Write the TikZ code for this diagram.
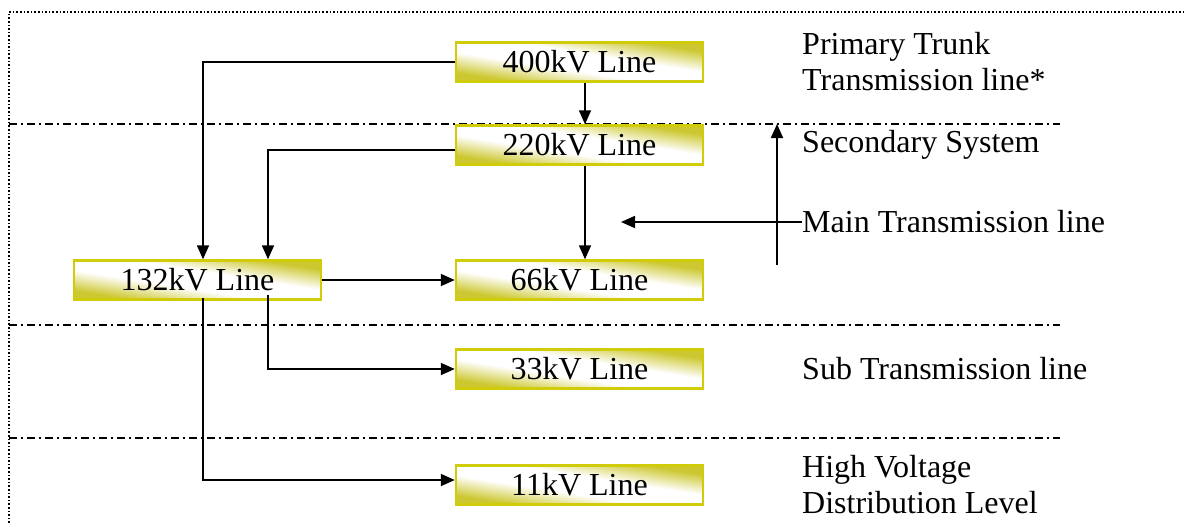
\documentclass[tikz,border=0pt]{standalone}
\usepackage{fontspec}
\setmainfont{Liberation Serif}
\usetikzlibrary{arrows.meta}
\definecolor{boxedge}{RGB}{208,204,10}
\definecolor{boxfill}{RGB}{205,200,50}
\pgfdeclarehorizontalshading{boxshade}{100bp}{color(0bp)=(boxfill); color(28bp)=(boxfill); color(43bp)=(white); color(57bp)=(white); color(72bp)=(boxfill); color(100bp)=(boxfill)}
\tikzset{
  vbox/.style={draw=boxedge, line width=2.4pt, minimum width=247pt, minimum height=39pt,
    inner sep=0pt, shading=boxshade, shading angle=81, font=\fontsize{32}{36}\selectfont},
  conn/.style={line width=1.8pt, -{Triangle[length=14pt,width=12pt]}},
  level/.style={line width=1.2pt, dash pattern=on 8pt off 4pt on 2pt off 4pt},
  lbl/.style={anchor=west, align=left, inner sep=0pt, font=\fontsize{32}{36}\selectfont},
}
\begin{document}
\begin{tikzpicture}[x=1pt,y=-1pt]
\useasboundingbox (0,0) rectangle (1185,523);
% frame
\draw[line width=1.6pt, dotted] (9,523) -- (9,12) -- (1185,12);
% level lines
\draw[level] (9,124) -- (1060,124);
\draw[level] (9,325) -- (1060,325);
\draw[level] (9,438) -- (1060,438);
% boxes
\node[vbox] (b400) at (579.5,62) {400kV Line};
\node[vbox] (b220) at (579.5,145) {220kV Line};
\node[vbox] (b132) at (197.5,280) {132kV Line};
\node[vbox] (b66)  at (579.5,280) {66kV Line};
\node[vbox] (b33)  at (579.5,369) {33kV Line};
\node[vbox] (b11)  at (579.5,485) {11kV Line};
% connectors
\draw[conn] (b400.west) -| ([xshift=5.5pt]b132.north);
\draw[conn] ([xshift=5.5pt]b400.south) -- ([xshift=5.5pt]b220.north);
\draw[conn] ([yshift=-5pt]b220.west) -| ([xshift=70.5pt]b132.north);
\draw[conn] ([xshift=5.5pt]b220.south) -- ([xshift=5.5pt]b66.north);
\draw[conn] (b132.east) -- (b66.west);
\draw[conn] ([xshift=70.5pt,yshift=6pt]b132.south) |- (b33.west);
\draw[conn] ([xshift=5.5pt,yshift=3pt]b132.south) |- ([yshift=5pt]b11.west);
% labels
\node[lbl] (lprim) at (802,62) {Primary Trunk\\Transmission line*};
\node[lbl] (lsec) at (802,145) {Secondary System};
\node[lbl] (lmain) at (802,222) {Main Transmission line};
\node[lbl] (lsub) at (802,369) {Sub Transmission line};
\node[lbl] (lhv) at (802,485) {High Voltage\\Distribution Level};
% main transmission indicators
\coordinate (upbot) at (777,265);
\coordinate (uptop) at (777,124);
\coordinate (lefttip) at (621,222);
\draw[conn] (upbot) -- (uptop);
\draw[conn] (lmain.west) -- (lefttip);
\end{tikzpicture}
\end{document}
